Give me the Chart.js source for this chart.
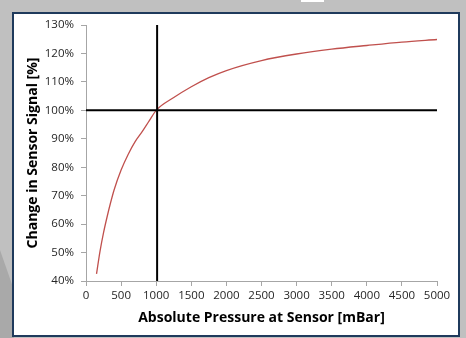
<!DOCTYPE html>
<html>
<head>
<meta charset="utf-8">
<script src="https://cdn.jsdelivr.net/npm/chart.js@4/dist/chart.umd.min.js"></script>
<style>
  html, body { margin: 0; padding: 0; }
  body { width: 466px; height: 338px; background: #c0c0c0; position: relative; overflow: hidden; }
  #shade { position: absolute; left: 0; top: 0; width: 466px; height: 338px; background: #a9a9a9;
           clip-path: polygon(0 250px, 14px 290px, 14px 338px, 0 338px); }
  #tab { position: absolute; left: 301px; top: 0; width: 23px; height: 2px; background: #ffffff; }
  #box { position: absolute; left: 12px; top: 12px; width: 444px; height: 321px; background: #ffffff;
         border: 2px solid #1f3a5c; }
  #c { position: absolute; left: 0; top: 0; }
</style>
</head>
<body>
<div id="shade"></div>
<div id="tab"></div>
<div id="box"></div>
<canvas id="c" width="466" height="338"></canvas>
<script>
// Sensor response curve
const pressure = [150, 200, 250, 300, 350, 400, 500, 600, 700, 800, 900, 1000, 1250, 1500, 1750, 2000, 2500, 3000, 3500, 4000, 4500, 5000];
const signal   = [42.5, 50.5, 57, 62.5, 67.5, 72, 79, 84.5, 89, 92.5, 96.3, 100, 104.5, 108.3, 111.5, 114, 117.5, 119.8, 121.5, 122.8, 124, 124.9];

// Reference lines
const refVertX = [1013, 1013];
const refVertY = [40, 130];
const refHorzX = [0, 5000];
const refHorzY = [100, 100];

// Axis labels
const xTitle = 'Absolute Pressure at Sensor [mBar]';
const yTitle = 'Change in Sensor Signal [%]';

const toPts = (xs, ys) => xs.map((x, i) => ({ x: x, y: ys[i] }));

new Chart(document.getElementById('c'), {
  type: 'scatter',
  data: {
    datasets: [
      { data: toPts(refHorzX, refHorzY), showLine: true, borderColor: '#000000', borderWidth: 2, pointRadius: 0 },
      { data: toPts(refVertX, refVertY), showLine: true, borderColor: '#000000', borderWidth: 2, pointRadius: 0 },
      { data: toPts(pressure, signal), showLine: true, borderColor: '#c0504d', borderWidth: 1.3, pointRadius: 0,
        cubicInterpolationMode: 'monotone' }
    ]
  },
  options: {
    responsive: false,
    devicePixelRatio: 1,
    animation: false,
    layout: { padding: { top: 25, right: 29, left: 0, bottom: 0 } },
    plugins: { legend: { display: false }, tooltip: { enabled: false } },
    scales: {
      x: {
        type: 'linear', min: 0, max: 5000,
        afterFit: s => { s.height = 57; },
        border: { color: '#a6a6a6', width: 1 },
        grid: { drawOnChartArea: false, drawTicks: true, tickLength: 5, color: '#a6a6a6' },
        ticks: { stepSize: 500, color: '#262626', padding: 3, maxRotation: 0,
                 font: { family: 'Open Sans', size: 11.5 },
                 callback: v => String(v) },
        title: { display: true, text: xTitle, color: '#000000', padding: { top: 0, bottom: 12 },
                 font: { family: 'Open Sans', size: 14, weight: 'bold' } }
      },
      y: {
        type: 'linear', min: 40, max: 130,
        afterFit: s => { s.width = 86; },
        border: { color: '#a6a6a6', width: 1 },
        grid: { drawOnChartArea: false, drawTicks: true, tickLength: 5, color: '#a6a6a6' },
        ticks: { stepSize: 10, color: '#262626', padding: 7,
                 font: { family: 'Open Sans', size: 11.5 },
                 callback: v => v + '%' },
        title: { display: true, text: yTitle, color: '#000000', padding: { top: 25, bottom: 0 },
                 font: { family: 'Open Sans', size: 14, weight: 'bold' } }
      }
    }
  }
});
</script>
</body>
</html>
